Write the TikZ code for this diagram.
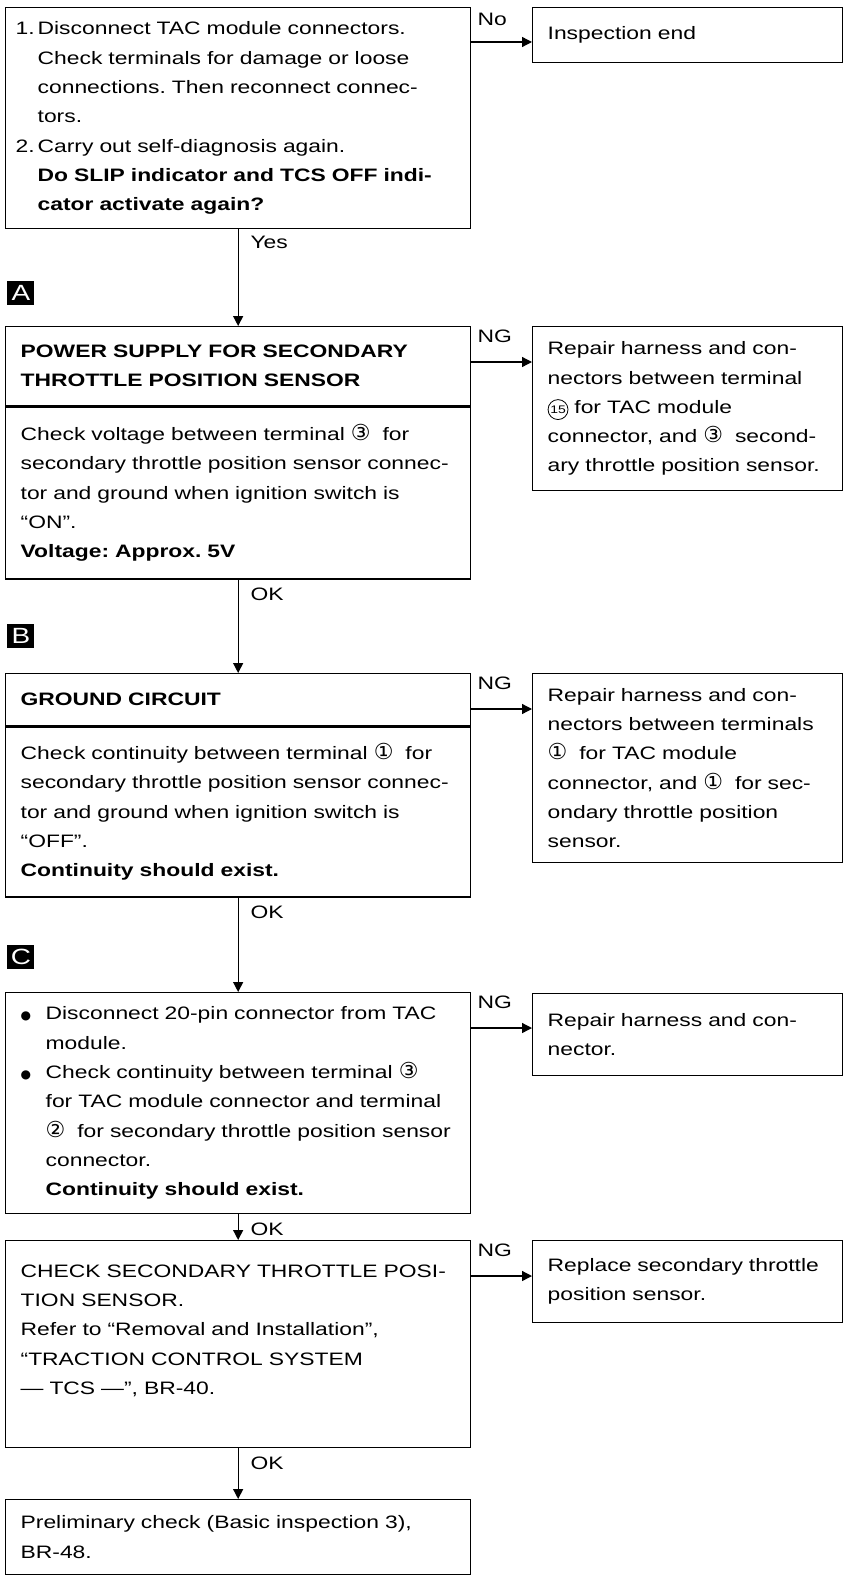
\documentclass[tikz,border=0pt]{standalone}
\usepackage{fontspec}
\setmainfont{Liberation Sans}[FakeStretch=1.27]
\newfontfamily\dvsans{DejaVu Sans}
\usetikzlibrary{arrows.meta}
\frenchspacing

\newcommand{\cn}[1]{{\dvsans\fontsize{11}{11}\selectfont #1}}
\newcommand{\cnn}[1]{\tikz[baseline=(cnum.base)]\node[circle, draw, line width=0.4pt,
    text width=, align=none, minimum size=0pt, inner sep=0.5pt,
    font=\fontsize{5.5}{5.5}\selectfont] (cnum) {#1};}
\newcommand{\nr}[1]{\makebox[11pt][l]{#1}}
\newcommand{\bul}{\makebox[12.5pt][l]{\dvsans\fontsize{6}{6}\selectfont ●}}
\newcommand{\ind}[1]{\hspace*{#1}}

\begin{document}
\begin{tikzpicture}[x=0.5pt,y=-0.5pt,
    txt/.style={font=\fontsize{9}{14.65}\selectfont},
    box/.style={txt, draw, line width=0.65pt, anchor=north west, align=left,
        inner xsep=7.5pt, inner ysep=0pt},
    lbox/.style={box, text width=217.5pt},
    rbox/.style={box, text width=140pt},
    head/.style={lbox, font=\fontsize{9}{14.65}\selectfont\bfseries},
    tag/.style={fill=black, text=white, anchor=north west, inner sep=0pt,
        minimum width=13.5pt, minimum height=12pt, font=\fontsize{11}{11}\selectfont},
    arr/.style={line width=0.65pt, -{Triangle[length=5pt,width=5pt]}},
    lbl/.style={txt, inner sep=0pt, anchor=north west}]
    \useasboundingbox (0,0) rectangle (845,1578);

    % Caixas da esquerda
    \node[lbox, inner xsep=5pt, text width=222.5pt, minimum height=110.5pt] (q1) at (5,7) {%
        \nr{1.}Disconnect TAC module connectors.\\
        \ind{11pt}Check terminals for damage or loose\\
        \ind{11pt}connections. Then reconnect connec-\\
        \ind{11pt}tors.\\
        \nr{2.}Carry out self-diagnosis again.\\
        \ind{11pt}\textbf{Do SLIP indicator and TCS OFF indi-}\\
        \ind{11pt}\textbf{cator activate again?}};

    \node[head, minimum height=39.5pt] (Ahead) at (5,326) {%
        POWER SUPPLY FOR SECONDARY\\THROTTLE POSITION SENSOR};
    \node[lbox, minimum height=86pt] (Abody) at (Ahead.south west) {%
        Check voltage between terminal \cn{③}~ for\\
        secondary throttle position sensor connec-\\
        tor and ground when ignition switch is\\
        “ON”.\\
        \textbf{Voltage: Approx. 5V}};

    \node[head, minimum height=26pt] (Bhead) at (5,673) {GROUND CIRCUIT};
    \node[lbox, minimum height=85pt] (Bbody) at (Bhead.south west) {%
        Check continuity between terminal \cn{①}~ for\\
        secondary throttle position sensor connec-\\
        tor and ground when ignition switch is\\
        “OFF”.\\
        \textbf{Continuity should exist.}};

    \node[lbox, minimum height=110.5pt] (qC) at (5,992) {%
        \bul Disconnect 20-pin connector from TAC\\
        \ind{12.5pt}module.\\
        \bul Check continuity between terminal \cn{③}\\
        \ind{12.5pt}for TAC module connector and terminal\\
        \ind{12.5pt}\cn{②}~ for secondary throttle position sensor\\
        \ind{12.5pt}connector.\\
        \ind{12.5pt}\textbf{Continuity should exist.}};

    \node[lbox, minimum height=103.5pt] (qD) at (5,1240) {%
        CHECK SECONDARY THROTTLE POSI-\\
        TION SENSOR.\\
        Refer to “Removal and Installation”,\\
        “TRACTION CONTROL SYSTEM\\
        — TCS —”, BR-40.\\
        ~};

    \node[lbox, minimum height=37.5pt] (fin) at (5,1499) {%
        Preliminary check (Basic inspection 3),\\
        BR-48.};

    % Separadores
    \draw[line width=1.2pt] (Ahead.south west) -- (Ahead.south east);
    \draw[line width=1.2pt] (Bhead.south west) -- (Bhead.south east);

    % Caixas da direita
    \node[rbox, minimum height=27.5pt] (ends) at (532,7) {Inspection end};
    \node[rbox, minimum height=82pt] (rep1) at (532,326) {%
        Repair harness and con-\\
        nectors between terminal\\
        \cnn{15} for TAC module\\
        connector, and \cn{③}~ second-\\
        ary throttle position sensor.};
    \node[rbox, minimum height=94.5pt] (rep2) at (532,673) {%
        Repair harness and con-\\
        nectors between terminals\\
        \cn{①}~ for TAC module\\
        connector, and \cn{①}~ for sec-\\
        ondary throttle position\\
        sensor.};
    \node[rbox, minimum height=41pt] (rep3) at (532,993) {%
        Repair harness and con-\\
        nector.};
    \node[rbox, minimum height=41pt] (rep4) at (532,1240) {%
        Replace secondary throttle\\
        position sensor.};

    % Marcas
    \node[tag] (tA) at (7,281) {A};
    \node[tag] (tB) at (7,624) {B};
    \node[tag] (tC) at (7,945) {C};

    % Setas
    \draw[arr] ([yshift=-17.5pt]q1.north east) coordinate (no) -- (no -| ends.west);
    \node[lbl] (lno) at ([xshift=3pt,yshift=-3pt]q1.north east) {No};
    \draw[arr] (q1.south) -- (Ahead.north);
    \node[lbl] (lyes) at ([xshift=6pt,yshift=-3pt]q1.south) {Yes};

    \foreach \src/\dst in {Ahead/rep1,Bhead/rep2,qC/rep3,qD/rep4} {
        \draw[arr] ([yshift=-18pt]\src.north east) coordinate (ng) -- (ng -| \dst.west);
        \node[lbl] (ng\dst) at ([xshift=3pt,yshift=-2pt]\src.north east) {NG};
    }
    \foreach \src/\dst in {Abody/Bhead,Bbody/qC,qC/qD,qD/fin} {
        \draw[arr] (\src.south) -- (\dst.north);
        \node[lbl] (ok\dst) at ([xshift=6pt,yshift=-4pt]\src.south) {OK};
    }
\end{tikzpicture}
\end{document}
